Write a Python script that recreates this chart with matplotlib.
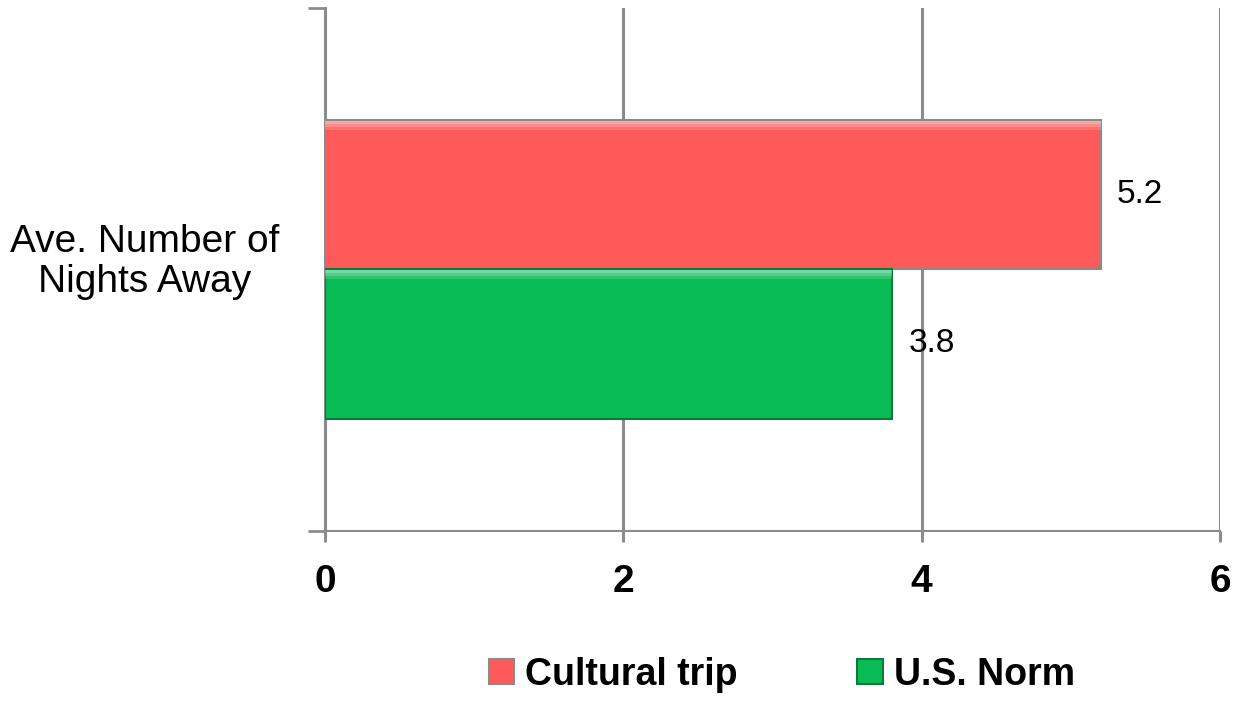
import matplotlib.pyplot as plt
from matplotlib.patches import Patch

category = "Ave. Number of\nNights Away"
series = ["Cultural trip", "U.S. Norm"]
values = [5.2, 3.8]
colors = ["#FF5A5A", "#08BB55"]
edges = ["#8a8a8a", "#0B7A3B"]
xticks = [0, 2, 4, 6]

plt.rcParams['font.family'] = ['Liberation Sans', 'DejaVu Sans']

fig = plt.figure(figsize=(12.37, 7.03), dpi=100)
ax = fig.add_axes([0.2627, 0.2447, 0.7236, 0.744])

bar_h = 0.285
offsets = [bar_h / 2, -bar_h / 2]
for name, v, c, e, off in zip(series, values, colors, edges, offsets):
    ax.barh(off, v, height=bar_h, color=c, edgecolor=e, linewidth=1.5, zorder=3)
    # soft highlight along the top edge for a bevelled look
    for k, a in enumerate([0.45, 0.3, 0.15]):
        ax.barh(off + bar_h / 2 - 0.004 - k * 0.006, v, height=0.006,
                color="white", alpha=a, linewidth=0, zorder=4)
    ax.text(v + 0.11, off, f"{v}", va="center", ha="left", fontsize=24,
            color="black", zorder=5)

ax.set_xlim(0, 6)
ax.set_ylim(-0.5, 0.5)
ax.set_xticks(xticks)
ax.set_xticklabels([str(t) for t in xticks], fontsize=28, fontweight="bold")
ax.xaxis.grid(True, color="#8c8c8c", linewidth=2.2, zorder=1)
ax.set_axisbelow(True)

ax.set_yticks([-0.5, 0.5])
ax.set_yticklabels([])
ax.tick_params(axis="y", direction="out", length=12, width=2, color="#8c8c8c")
ax.tick_params(axis="x", direction="out", length=8, width=2.2, color="#8c8c8c",
               pad=16)

for s in ["top", "right"]:
    ax.spines[s].set_visible(False)
ax.spines["left"].set_color("#8c8c8c")
ax.spines["left"].set_linewidth(2.2)
ax.spines["bottom"].set_color("#8c8c8c")
ax.spines["bottom"].set_linewidth(1.5)

fig.text(0.117, 0.627, category, ha="center", va="center", fontsize=28,
         linespacing=1.15)

handles = [Patch(facecolor=c, edgecolor=e, linewidth=1.5)
           for c, e in zip(colors, edges)]
fig.legend(handles, series, loc="center", bbox_to_anchor=(0.632, 0.04),
           ncol=2, frameon=False, handlelength=0.67, handleheight=0.67,
           handletextpad=0.3, columnspacing=3.2,
           prop={"size": 27, "weight": "bold"})

fig.savefig("out.png", dpi=100)
